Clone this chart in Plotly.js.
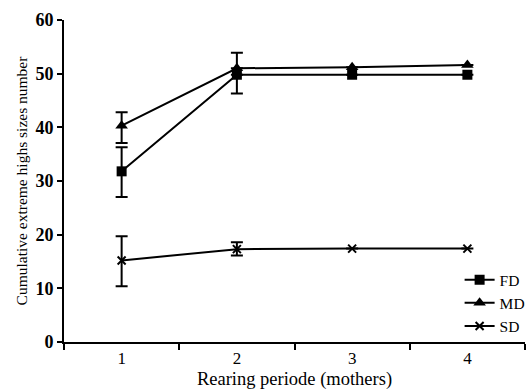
<!DOCTYPE html>
<html>
<head>
<meta charset="utf-8">
<script src="https://cdn.plot.ly/plotly-3.0.1.min.js"></script>
<style>html,body{margin:0;padding:0;background:#fff;}#chart{width:531px;height:390px;}</style>
</head>
<body>
<div id="chart"></div>
<script>
const periods = ['1', '2', '3', '4'];
const fdValues = [31.8, 49.8, 49.8, 49.8];
const fdErrPlus = [4.5, 0, 0, 0];
const fdErrMinus = [4.8, 3.5, 0, 0];
const mdValues = [40.3, 51.0, 51.2, 51.6];
const mdErrPlus = [2.5, 2.9, 0, 0];
const mdErrMinus = [3.2, 0, 0, 0];
const sdValues = [15.2, 17.3, 17.4, 17.4];
const sdErrPlus = [4.5, 1.3, 0, 0];
const sdErrMinus = [4.8, 1.2, 0, 0];
const seriesNames = ['FD', 'MD', 'SD'];
const yTicks = [0, 10, 20, 30, 40, 50, 60];

const serif = 'Liberation Serif, Times New Roman, serif';
function series(name, y, ep, em, symbol, size) {
  return {
    type: 'scatter', mode: 'lines+markers', name: name,
    x: periods, y: y,
    line: {color: '#000', width: 2},
    marker: {symbol: symbol, size: size, color: '#000', line: {color: '#000', width: symbol.indexOf('x') === 0 ? 2 : 0}},
    error_y: {type: 'data', symmetric: false, array: ep, arrayminus: em, color: '#000', thickness: 2, width: 6}
  };
}
const data = [
  series(seriesNames[0], fdValues, fdErrPlus, fdErrMinus, 'square', 10),
  series(seriesNames[1], mdValues, mdErrPlus, mdErrMinus, 'triangle-up', 11),
  series(seriesNames[2], sdValues, sdErrPlus, sdErrMinus, 'x-thin-open', 8)
];
const layout = {
  width: 531, height: 390,
  margin: {l: 64, r: 1, t: 20, b: 48},
  paper_bgcolor: '#fff', plot_bgcolor: '#fff',
  font: {family: serif, color: '#000', size: 15},
  showlegend: true,
  legend: {x: 1.01, xanchor: 'right', y: 0.245, yanchor: 'top', bgcolor: 'rgba(0,0,0,0)',
           font: {family: serif, size: 15.5, color: '#000'}, itemwidth: 30, tracegroupgap: 0},
  xaxis: {
    type: 'category', range: [-0.5, 3.5], tickson: 'boundaries',
    showline: true, linecolor: '#000', linewidth: 2,
    ticks: 'outside', ticklen: 6, tickwidth: 2, tickcolor: '#000',
    showgrid: false, zeroline: false,
    tickfont: {family: serif, size: 17, color: '#000'},
    title: {text: 'Rearing periode (mothers)', font: {family: serif, size: 18.5, color: '#000'}, standoff: 7}
  },
  yaxis: {
    range: [0, 60], tickvals: yTicks,
    showline: true, linecolor: '#000', linewidth: 2,
    ticks: 'outside', ticklen: 5, tickwidth: 2, tickcolor: '#000',
    showgrid: false, zeroline: false,
    tickfont: {family: serif, size: 18, color: '#000', weight: 'bold'},
    title: {text: 'Cumulative extreme highs sizes number', font: {family: serif, size: 15.5, color: '#000'}, standoff: 4}
  }
};
Plotly.newPlot('chart', data, layout, {staticPlot: true, displayModeBar: false});
</script>
</body>
</html>
